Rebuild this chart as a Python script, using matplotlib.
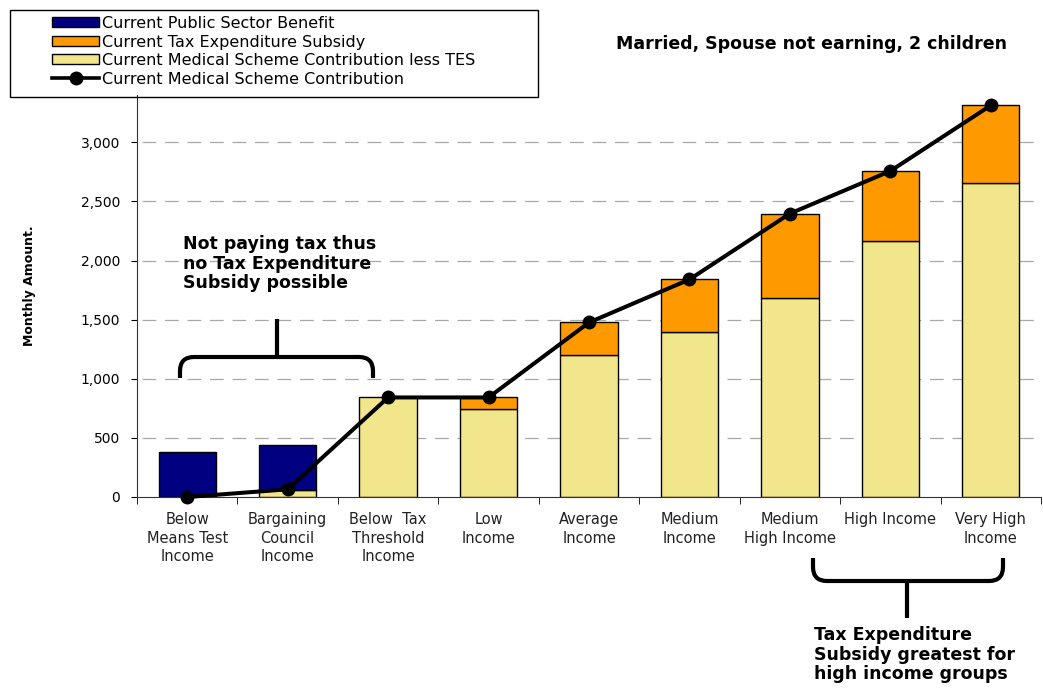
import matplotlib.pyplot as plt
import numpy as np
from matplotlib.path import Path
from matplotlib.patches import PathPatch, Rectangle
from matplotlib.lines import Line2D

plt.rcParams['font.family'] = ['DejaVu Sans']

groups = ['Below\nMeans Test\nIncome', 'Bargaining\nCouncil\nIncome',
          'Below  Tax\nThreshold\nIncome', 'Low\nIncome', 'Average\nIncome',
          'Medium\nIncome', 'Medium\nHigh Income', 'High Income',
          'Very High\nIncome']

# monthly amounts per income group
contrib_less_tes = [0, 60, 842, 741, 1200, 1392, 1679, 2161, 2653]
tax_subsidy = [0, 0, 0, 101, 276, 448, 718, 596, 659]
public_benefit = [378, 382, 0, 0, 0, 0, 0, 0, 0]
scheme_contrib = [0, 65, 842, 842, 1476, 1840, 2397, 2757, 3312]

W, H = 1043, 691
fig = plt.figure(figsize=(W / 100, H / 100), dpi=100)
ax = fig.add_axes([137 / W, 1 - 497 / H, 904 / W, 402 / H])

x = np.arange(len(groups))
yellow = '#F2E68C'
orange = '#FF9900'
navy = '#000080'
bw = 0.57

b1 = ax.bar(x, contrib_less_tes, bw, color=yellow, edgecolor='black', lw=1, zorder=2)
base = np.array(contrib_less_tes)
b2 = ax.bar(x, tax_subsidy, bw, bottom=base, color=orange, edgecolor='black', lw=1, zorder=2)
base = base + np.array(tax_subsidy)
b0 = ax.bar(x, public_benefit, bw, bottom=base, color=navy, edgecolor='black', lw=1, zorder=2)
# hide empty segments
for bars, vals in ((b1, contrib_less_tes), (b2, tax_subsidy), (b0, public_benefit)):
    for r, v in zip(bars, vals):
        if v == 0:
            r.set_visible(False)

ax.plot(x, scheme_contrib, '-o', color='black', lw=2.9, ms=9, zorder=4, clip_on=False)

ax.set_xlim(-0.5, len(groups) - 0.5)
ax.set_ylim(0, 3400)
ax.set_yticks(np.arange(0, 3001, 500))
ax.set_yticklabels(['{:,}'.format(v) for v in range(0, 3001, 500)], fontsize=10)
ax.set_xticks(x)
ax.set_xticklabels(groups, fontsize=10.5, color='#222222', linespacing=1.3)
ax.set_xticks(np.arange(-0.5, len(groups), 1), minor=True)
ax.tick_params(axis='x', which='major', length=0, pad=11)
ax.tick_params(axis='x', which='minor', length=5, direction='out')
ax.tick_params(axis='y', length=4, direction='out', pad=8)
for s in ('top', 'right'):
    ax.spines[s].set_visible(False)
ax.spines['left'].set_color('#333333')
ax.spines['bottom'].set_color('#333333')
ax.set_axisbelow(True)
for v in range(500, 3001, 500):
    ax.axhline(v, xmin=0.005, color='#a8a8a8', lw=0.9, ls=(0, (11, 7)), zorder=1)

fig.text(30 / W, 1 - 286 / H, 'Monthly Amount.', rotation=90, fontsize=9,
         fontweight='bold', ha='center', va='center')

fig.text(811 / W, 1 - 44 / H, 'Married, Spouse not earning, 2 children',
         fontsize=12.5, fontweight='bold', ha='center', va='center')

# legend box
fig.patches.append(Rectangle((10 / W, 1 - 97 / H), 528 / W, 87 / H, transform=fig.transFigure,
                             fill=False, edgecolor='black', lw=1))
handles = [Rectangle((0, 0), 1, 1, fc=navy, ec='black'),
           Rectangle((0, 0), 1, 1, fc=orange, ec='black'),
           Rectangle((0, 0), 1, 1, fc=yellow, ec='black'),
           Line2D([], [], color='black', lw=2.6, marker='o', ms=9)]
labels = ['Current Public Sector Benefit', 'Current Tax Expenditure Subsidy',
          'Current Medical Scheme Contribution less TES', 'Current Medical Scheme Contribution']
fig.legend(handles, labels, loc='upper left', bbox_to_anchor=(52 / W, 1 - 16 / H),
           frameon=False, fontsize=11.5, handlelength=2.95, handleheight=0.6,
           handletextpad=0.15, labelspacing=0.22, borderpad=0, borderaxespad=0)


def bracket(x0, x1, y_end, y_bar, xs, y_stem, r=14):
    # rounded bracket drawn in pixel positions (from top-left)
    sgn = 1 if y_bar > y_end else -1
    pts = [(x0, y_end), (x0, y_bar - sgn * r), (x0, y_bar), (x0 + r, y_bar),
           (x1 - r, y_bar), (x1, y_bar), (x1, y_bar - sgn * r), (x1, y_end),
           (xs, y_bar), (xs, y_stem)]
    codes = [Path.MOVETO, Path.LINETO, Path.CURVE3, Path.CURVE3,
             Path.LINETO, Path.CURVE3, Path.CURVE3, Path.LINETO,
             Path.MOVETO, Path.LINETO]
    pts = [(px / W, 1 - py / H) for px, py in pts]
    fig.patches.append(PathPatch(Path(pts, codes), transform=fig.transFigure,
                                 fill=False, lw=3, edgecolor='black', capstyle='butt'))


bracket(180, 373, 378, 357, 277, 319)
bracket(813, 1003, 558, 581, 907, 618)

fig.text(183 / W, 1 - 235 / H, 'Not paying tax thus\nno Tax Expenditure\nSubsidy possible',
         fontsize=12.5, fontweight='bold', ha='left', va='top', linespacing=1.12)
fig.text(814 / W, 1 - 626 / H, 'Tax Expenditure\nSubsidy greatest for\nhigh income groups',
         fontsize=12.5, fontweight='bold', ha='left', va='top', linespacing=1.12)

fig.savefig('out.png', dpi=100)
